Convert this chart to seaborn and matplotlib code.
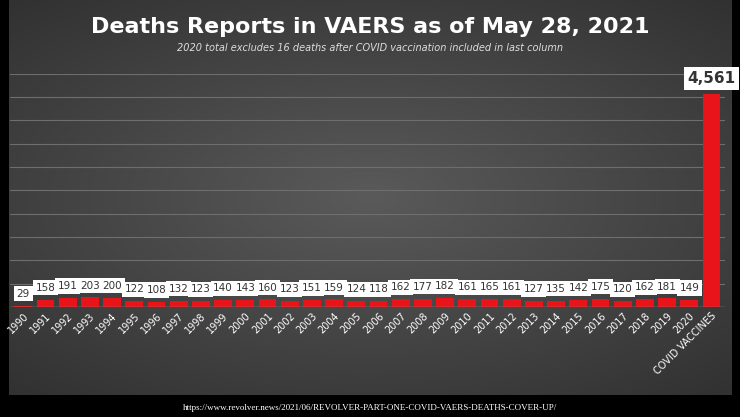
import numpy as np
import pandas as pd
import matplotlib
matplotlib.use('Agg')
import matplotlib.pyplot as plt
from matplotlib.colors import LinearSegmentedColormap
import seaborn as sns

# Deaths reported per year (VAERS) plus COVID vaccines column
years = [str(y) for y in range(1990, 2021)] + ['COVID VACCINES']
deaths = [29, 158, 191, 203, 200, 122, 108, 132, 123, 140, 143, 160, 123, 151, 159,
          124, 118, 162, 177, 182, 161, 165, 161, 127, 135, 142, 175, 120, 162, 181,
          149, 4561]

df = pd.DataFrame({'year': years, 'deaths': deaths})

sns.set_theme(style='dark')
fig = plt.figure(figsize=(7.4, 4.17), dpi=100)
fig.patch.set_facecolor('black')

# dark gray gradient panel behind everything
bg = fig.add_axes([0.012, 0.053, 0.976, 0.947], zorder=-1)
yy, xx = np.mgrid[-1:1:200j, -1:1:300j]
grad = np.sqrt((xx * 0.8) ** 2 + (yy * 0.9) ** 2)
cmap = LinearSegmentedColormap.from_list('bg', ['#5a5a5a', '#2e2e2e'])
bg.imshow(grad, cmap=cmap, vmin=0, vmax=1.3, aspect='auto')
bg.set_axis_off()

ax = fig.add_axes([0.0135, 0.264, 0.966, 0.559])
ax.patch.set_alpha(0)
sns.barplot(data=df, x='year', y='deaths', color='#e8141a', width=0.8, saturation=1,
            edgecolor='none', linewidth=0, ax=ax)
ax.set_ylim(0, 5000)
ax.set_yticks(np.arange(0, 5001, 500))
ax.set_yticklabels([])
ax.tick_params(axis='y', length=0)
ax.grid(axis='y', color='#6e6e6e', linewidth=0.8)
ax.set_axisbelow(True)
for s in ax.spines.values():
    s.set_visible(False)
ax.axhline(0, color='#8a8a8a', linewidth=1)
ax.set_xlabel('')
ax.set_ylabel('')
ax.set_xlim(-0.6, len(years) - 0.4)
plt.setp(ax.get_xticklabels(), rotation=45, ha='right', rotation_mode='anchor',
         color='white', fontsize=7)
ax.tick_params(axis='x', length=0, pad=3)

for i, v in enumerate(deaths):
    big = v > 1000
    ax.annotate(f'{v:,}', (i, v), xytext=(0, 6 if big else 5), textcoords='offset points',
                ha='center', va='bottom', color='#333333',
                fontsize=11 if big else 7.5, fontweight='bold' if big else 'normal',
                bbox=dict(boxstyle='square,pad=0.25', fc='white', ec='none'))

fig.text(0.5, 0.935, 'Deaths Reports in VAERS as of May 28, 2021', ha='center', va='center',
         color='white', fontsize=16, fontweight='bold')
fig.text(0.5, 0.885, '2020 total excludes 16 deaths after COVID vaccination included in last column',
         ha='center', va='center', color='#dddddd', fontsize=7, style='italic')
fig.text(0.5, 0.022, 'https://www.revolver.news/2021/06/REVOLVER-PART-ONE-COVID-VAERS-DEATHS-COVER-UP/',
         ha='center', va='center', color='white', fontsize=6.5, family='Liberation Serif')

fig.savefig('out.png', dpi=100, facecolor=fig.get_facecolor())
